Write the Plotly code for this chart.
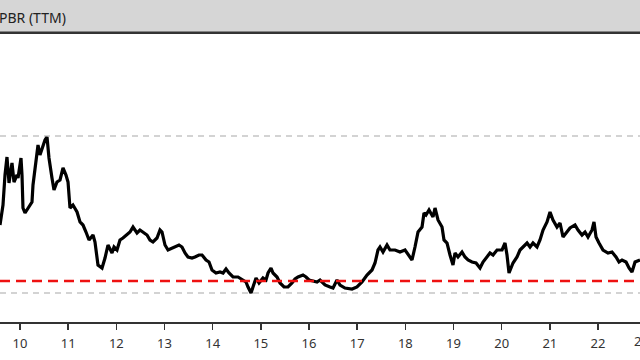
import plotly.graph_objects as go

# decimal year of each observation
years = [
    2009.585, 2009.647, 2009.689, 2009.730, 2009.772, 2009.834, 2009.876, 2009.938, 2009.959, 2010.021,
    2010.042, 2010.062, 2010.104, 2010.166, 2010.249, 2010.270, 2010.332, 2010.374, 2010.415, 2010.478,
    2010.519, 2010.561, 2010.602, 2010.664, 2010.706, 2010.768, 2010.831, 2010.893, 2010.955, 2010.997,
    2011.038, 2011.100, 2011.184, 2011.246, 2011.308, 2011.370, 2011.433, 2011.516, 2011.557, 2011.619,
    2011.703, 2011.765, 2011.827, 2011.910, 2011.952, 2012.014, 2012.076, 2012.138, 2012.222, 2012.284,
    2012.346, 2012.429, 2012.491, 2012.554, 2012.637, 2012.699, 2012.761, 2012.844, 2012.907, 2012.948,
    2013.010, 2013.073, 2013.156, 2013.218, 2013.301, 2013.363, 2013.426, 2013.488, 2013.571, 2013.633,
    2013.716, 2013.779, 2013.862, 2013.924, 2013.986, 2014.069, 2014.152, 2014.215, 2014.277, 2014.339,
    2014.422, 2014.526, 2014.609, 2014.692, 2014.734, 2014.796, 2014.837, 2014.900, 2014.962, 2015.045,
    2015.107, 2015.149, 2015.211, 2015.253, 2015.336, 2015.398, 2015.481, 2015.564, 2015.647, 2015.709,
    2015.772, 2015.875, 2015.938, 2016.000, 2016.083, 2016.166, 2016.228, 2016.332, 2016.436, 2016.498,
    2016.581, 2016.643, 2016.747, 2016.893, 2016.996, 2017.100, 2017.204, 2017.308, 2017.370, 2017.432,
    2017.474, 2017.536, 2017.619, 2017.681, 2017.785, 2017.889, 2017.993, 2018.097, 2018.138, 2018.200,
    2018.263, 2018.346, 2018.387, 2018.429, 2018.491, 2018.574, 2018.616, 2018.678, 2018.761, 2018.802,
    2018.865, 2018.927, 2018.989, 2019.031, 2019.093, 2019.176, 2019.238, 2019.301, 2019.384, 2019.467,
    2019.550, 2019.612, 2019.695, 2019.757, 2019.820, 2019.903, 2020.007, 2020.069, 2020.110, 2020.152,
    2020.235, 2020.318, 2020.380, 2020.443, 2020.526, 2020.588, 2020.650, 2020.733, 2020.795, 2020.858,
    2020.941, 2021.003, 2021.065, 2021.148, 2021.211, 2021.273, 2021.356, 2021.418, 2021.522, 2021.584,
    2021.667, 2021.730, 2021.792, 2021.875, 2021.916, 2021.958, 2022.020, 2022.103, 2022.207, 2022.290,
    2022.373, 2022.435, 2022.498, 2022.581, 2022.643, 2022.705, 2022.768, 2022.871,
]

# PBR (TTM), times
pbr = [
    1.56, 1.76, 2.06, 2.24, 1.98, 2.18, 1.99, 2.06, 2.03, 2.23,
    2.06, 1.73, 1.68, 1.73, 1.79, 1.96, 2.23, 2.36, 2.26, 2.36,
    2.41, 2.44, 2.23, 2.03, 1.91, 1.99, 2.01, 2.13, 2.06, 1.99,
    1.73, 1.76, 1.69, 1.59, 1.56, 1.49, 1.41, 1.46, 1.39, 1.16,
    1.13, 1.23, 1.36, 1.28, 1.34, 1.31, 1.41, 1.43, 1.46, 1.49,
    1.54, 1.48, 1.51, 1.49, 1.46, 1.41, 1.39, 1.43, 1.51, 1.49,
    1.36, 1.31, 1.33, 1.34, 1.36, 1.34, 1.28, 1.24, 1.23, 1.24,
    1.26, 1.26, 1.21, 1.19, 1.11, 1.08, 1.09, 1.08, 1.12, 1.08,
    1.04, 1.04, 1.01, 0.99, 0.94, 0.88, 0.94, 1.03, 0.98, 1.03,
    1.01, 1.08, 1.13, 1.08, 1.04, 0.98, 0.94, 0.94, 0.98, 1.02,
    1.04, 1.06, 1.04, 1.01, 1.00, 0.99, 1.01, 0.96, 0.94, 0.93,
    1.01, 0.96, 0.93, 0.92, 0.94, 0.99, 1.06, 1.11, 1.18, 1.31,
    1.34, 1.29, 1.36, 1.31, 1.31, 1.29, 1.31, 1.24, 1.21, 1.34,
    1.49, 1.54, 1.68, 1.66, 1.71, 1.64, 1.73, 1.61, 1.54, 1.41,
    1.38, 1.26, 1.16, 1.28, 1.24, 1.29, 1.24, 1.21, 1.19, 1.18,
    1.13, 1.19, 1.24, 1.28, 1.26, 1.31, 1.31, 1.38, 1.26, 1.08,
    1.18, 1.24, 1.31, 1.34, 1.38, 1.34, 1.38, 1.34, 1.41, 1.51,
    1.59, 1.69, 1.61, 1.54, 1.58, 1.44, 1.49, 1.53, 1.56, 1.51,
    1.46, 1.49, 1.44, 1.51, 1.59, 1.44, 1.38, 1.31, 1.28, 1.29,
    1.24, 1.19, 1.21, 1.19, 1.13, 1.09, 1.19, 1.21,
]

tick_years = list(range(2010, 2024))
tick_labels = ["10", "11", "12", "13", "14", "15", "16", "17", "18", "19", "20", "21", "22", "23"]

x_range = [2009.585, 2022.871]
pbr_max = 2.45
pbr_min = 0.88
pbr_ref = 1.00
title_text = "PBR (TTM)"

fig = go.Figure()
fig.add_trace(go.Scatter(
    x=years, y=pbr, mode="lines",
    line=dict(color="#000000", width=3.2),
    hoverinfo="skip", showlegend=False, cliponaxis=True,
))

# reference lines
fig.add_hline(y=pbr_max, line=dict(color="#a8a8a8", width=1.2, dash="6px,5px"))
fig.add_hline(y=pbr_min, line=dict(color="#a8a8a8", width=1.2, dash="6px,5px"))
fig.add_hline(y=pbr_ref, line=dict(color="#ee1111", width=2.6, dash="10px,6px"))

# header band
fig.add_shape(type="rect", xref="paper", yref="paper", x0=-0.01, x1=1.01, y0=1.0, y1=1.2,
              fillcolor="#d6d6d6", line=dict(width=0), layer="above")
fig.add_shape(type="line", xref="paper", yref="paper", x0=-0.01, x1=1.01,
              y0=1.0045, y1=1.0045, line=dict(color="#333333", width=2.5), layer="above")
fig.add_annotation(text=title_text, xref="paper", yref="paper", x=0, y=1.058,
                   xanchor="left", yanchor="middle", xshift=-3, showarrow=False,
                   font=dict(family="Noto Sans", size=14, color="#222222"))

# last tick label, partly beyond the right edge (the axis range ends before it)
last_frac = (tick_years[-1] - x_range[0]) / (x_range[1] - x_range[0])
fig.add_annotation(text=tick_labels[-1], xref="paper", yref="paper", x=last_frac, y=0,
                   xanchor="center", yanchor="top", xshift=-5, yshift=-8, showarrow=False,
                   font=dict(family="Noto Sans", size=13, color="#333333"))

fig.update_layout(
    width=640, height=360,
    margin=dict(l=0, r=0, t=34, b=38, autoexpand=False),
    paper_bgcolor="white", plot_bgcolor="white",
    hovermode=False,
    xaxis=dict(
        range=x_range,
        tickvals=tick_years, ticktext=tick_labels,
        showgrid=False, zeroline=False, automargin=False,
        showline=True, linecolor="#333333", linewidth=1.5,
        ticks="outside", ticklen=6, tickwidth=1.5, tickcolor="#333333",
        ticklabelstandoff=3,
        tickfont=dict(family="Noto Sans", size=13, color="#333333"),
    ),
    yaxis=dict(range=[0.59, 3.47], visible=False, showgrid=False, zeroline=False, automargin=False),
)

fig.write_html("out.html", config={"displayModeBar": False, "staticPlot": True},
               post_script="document.body.style.margin='0';document.body.style.overflow='hidden';")
